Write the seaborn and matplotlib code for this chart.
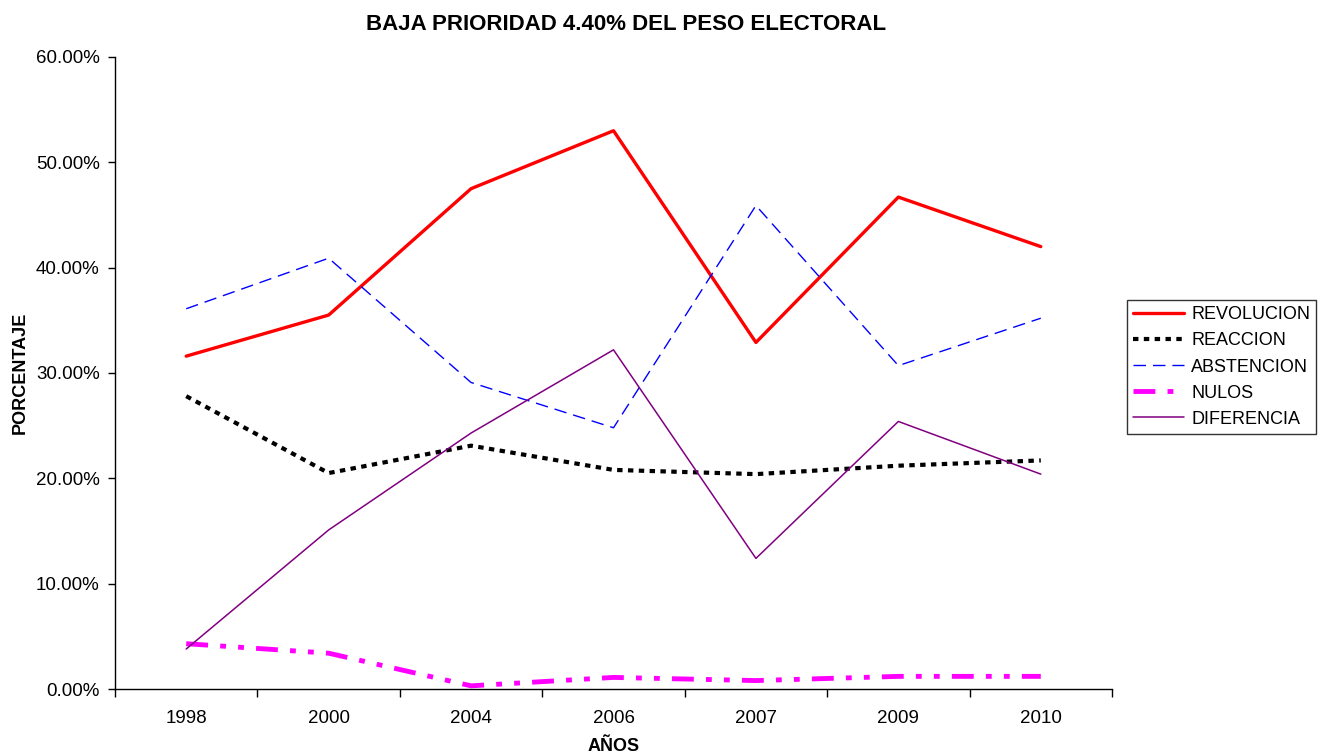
import numpy as np
import pandas as pd
import matplotlib
matplotlib.use("Agg")
import matplotlib.pyplot as plt
import seaborn as sns
from matplotlib.ticker import PercentFormatter, FixedLocator

years = ['1998', '2000', '2004', '2006', '2007', '2009', '2010']
revolucion = [31.6, 35.5, 47.5, 53.0, 32.9, 46.7, 42.0]
reaccion = [27.8, 20.5, 23.1, 20.8, 20.4, 21.2, 21.7]
abstencion = [36.1, 40.9, 29.1, 24.8, 45.9, 30.7, 35.2]
nulos = [4.3, 3.4, 0.3, 1.1, 0.8, 1.2, 1.2]
diferencia = [3.8, 15.1, 24.3, 32.2, 12.4, 25.4, 20.4]

series = ['REVOLUCION', 'REACCION', 'ABSTENCION', 'NULOS', 'DIFERENCIA']
df = pd.DataFrame({'AÑO': years, 'REVOLUCION': revolucion, 'REACCION': reaccion,
                   'ABSTENCION': abstencion, 'NULOS': nulos, 'DIFERENCIA': diferencia})
long = df.melt(id_vars='AÑO', var_name='serie', value_name='pct')

sns.set_style('white')
plt.rcParams['font.family'] = ['Liberation Sans', 'DejaVu Sans']
plt.rcParams['text.color'] = 'black'
plt.rcParams['axes.labelcolor'] = 'black'
plt.rcParams['xtick.color'] = 'black'
plt.rcParams['ytick.color'] = 'black'

colors = {'REVOLUCION': '#ff0000', 'REACCION': '#000000', 'ABSTENCION': '#0000ff',
          'NULOS': '#ff00ff', 'DIFERENCIA': '#800080'}
widths = {'REVOLUCION': 2.4, 'REACCION': 3.0, 'ABSTENCION': 1.0, 'NULOS': 3.5, 'DIFERENCIA': 1.1}
dashes = {'REVOLUCION': None, 'REACCION': (1.3, 1.3), 'ABSTENCION': (9, 5),
          'NULOS': (4.5, 2.5, 1.2, 2.5, 1.2, 2.5), 'DIFERENCIA': None}

fig = plt.figure(figsize=(13.3, 7.55), dpi=100)
ax = fig.add_axes([115/1330, 1-689/755, (1112-115)/1330, (689-57)/755])

x = np.arange(len(years))
for s in series:
    d = long[long['serie'] == s]
    sns.lineplot(x=x, y=d['pct'].values, ax=ax, color=colors[s], lw=widths[s],
                 label=s, sort=False)
    line = ax.get_lines()[-1]
    if dashes[s] is not None:
        line.set_dashes(dashes[s])
    line.set_dash_capstyle('butt')

ax.set_xlim(-0.5, len(years) - 0.5)
ax.set_ylim(0, 60)
ax.yaxis.set_major_formatter(PercentFormatter(decimals=2))
ax.set_yticks(np.arange(0, 61, 10))
ax.set_xticks(x)
ax.set_xticklabels(years)
ax.xaxis.set_minor_locator(FixedLocator(np.arange(-0.5, len(years), 1)))
ax.tick_params(axis='x', which='major', length=0, labelsize=13.5, pad=15)
ax.tick_params(axis='x', which='minor', length=6, width=1, direction='out', bottom=True)
ax.tick_params(axis='y', length=5, width=1, direction='out', left=True, labelsize=13.5, pad=6)

for sp in ['top', 'right']:
    ax.spines[sp].set_visible(False)
for sp in ['left', 'bottom']:
    ax.spines[sp].set_color('black')
    ax.spines[sp].set_linewidth(1)

ax.set_xlabel('AÑOS', fontsize=13, fontweight='bold', labelpad=8)
ax.set_ylabel('PORCENTAJE', fontsize=13, fontweight='bold', labelpad=5)
fig.text(626/1330, 1-24/755, 'BAJA PRIORIDAD 4.40% DEL PESO ELECTORAL', ha='center', va='center',
         fontsize=16, fontweight='bold')

leg = ax.legend(loc='center left', frameon=True,
                fontsize=13, handlelength=2.8, handletextpad=0.4, borderpad=0.35,
                labelspacing=0.5, fancybox=False, borderaxespad=0)
leg.set_bbox_to_anchor((1127/1330, 1-367/755), transform=fig.transFigure)
leg.get_frame().set_edgecolor('black')
leg.get_frame().set_linewidth(1)

fig.savefig('out.png', dpi=100)
